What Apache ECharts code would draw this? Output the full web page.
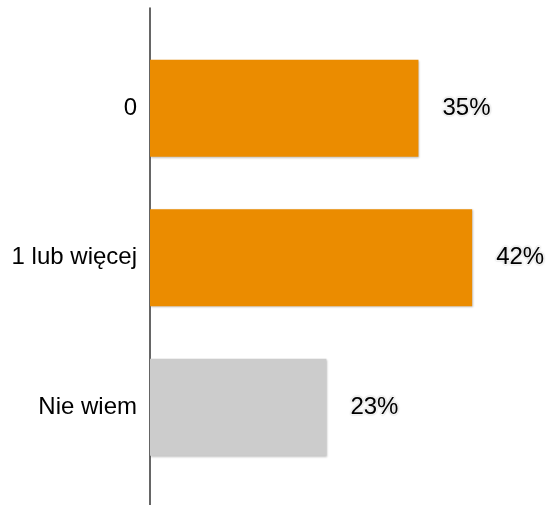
<!DOCTYPE html>
<html><head><meta charset="utf-8">
<script src="https://cdn.jsdelivr.net/npm/echarts@6/dist/echarts.min.js"></script>
<style>html,body{margin:0;padding:0;background:#fff}#c{width:550px;height:505px}</style>
</head><body><div id="c"></div>
<script>
const categories = ['0', '1 lub więcej', 'Nie wiem'];
const values = [35, 42, 23];
const barColors = ['#EB8C00', '#EB8C00', '#CCCCCC'];

const chart = echarts.init(document.getElementById('c'), null, {renderer: 'canvas'});
chart.setOption({
  animation: false,
  backgroundColor: '#fff',
  grid: [
    {left: 150, width: 383.5, top: 33.5, bottom: 23},
    {left: 150, width: 383.5, top: 8, bottom: 0}
  ],
  xAxis: [
    {gridIndex: 0, type: 'value', min: 0, max: 50, show: false},
    {gridIndex: 1, type: 'value', min: 0, max: 50, show: false}
  ],
  yAxis: [
    {gridIndex: 0, type: 'category', data: categories, inverse: true,
     axisLine: {show: false}, axisTick: {show: false},
     axisLabel: {fontFamily: 'Liberation Sans, Arial, sans-serif', fontSize: 24, color: '#000', margin: 13}},
    {gridIndex: 1, type: 'value', min: 0, max: 1,
     axisLine: {show: true, lineStyle: {color: '#333', width: 1.5}},
     axisTick: {show: false}, axisLabel: {show: false}, splitLine: {show: false}}
  ],
  series: [{
    type: 'bar', xAxisIndex: 0, yAxisIndex: 0,
    barWidth: '65%',
    data: values.map((v, i) => ({value: v, itemStyle: {color: barColors[i]}})),
    itemStyle: {shadowColor: 'rgba(0,0,0,0.25)', shadowBlur: 2, shadowOffsetX: 1, shadowOffsetY: 1},
    label: {
      show: true, position: 'right', distance: 24,
      formatter: p => p.value + '%',
      fontFamily: 'Liberation Sans, Arial, sans-serif', fontSize: 24, color: '#000',
      textBorderColor: '#fff', textBorderWidth: 2,
      textShadowColor: 'rgba(0,0,0,0.2)', textShadowBlur: 2
    }
  }]
});
</script></body></html>
